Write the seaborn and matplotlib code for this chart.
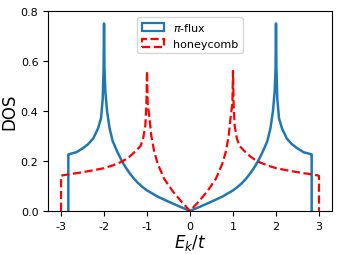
import numpy as np
import pandas as pd
import matplotlib
matplotlib.use("Agg")
import matplotlib.pyplot as plt
from matplotlib.patches import Patch
import seaborn as sns

# values (E_k/t, DOS)
pi_energy = [-2.83, -2.83, -2.81, -2.64, -2.5, -2.37, -2.25, -2.14, -2.07, -2.03, -2.01, -2.0,
             -1.99, -1.97, -1.93, -1.87, -1.8, -1.7, -1.6, -1.5, -1.4, -1.3, -1.2, -1.1,
             -1.0, -0.75, -0.5, -0.25, 0.0, 0.25, 0.5, 0.75, 1.0, 1.1, 1.2, 1.3, 1.4, 1.5,
             1.6, 1.7, 1.8, 1.87, 1.93, 1.97, 1.99, 2.0, 2.01, 2.03, 2.07, 2.14, 2.25, 2.37,
             2.5, 2.64, 2.81, 2.83, 2.83]
pi_dos = [0.0, 0.226, 0.227, 0.235, 0.25, 0.267, 0.29, 0.33, 0.37, 0.45, 0.57, 0.75,
          0.57, 0.48, 0.40, 0.33, 0.28, 0.24, 0.205, 0.175, 0.15, 0.128, 0.11, 0.095,
          0.082, 0.057, 0.037, 0.018, 0.0, 0.018, 0.037, 0.057, 0.082, 0.095, 0.11, 0.128,
          0.15, 0.175, 0.205, 0.24, 0.28, 0.33, 0.40, 0.48, 0.57, 0.75, 0.57, 0.45, 0.37,
          0.33, 0.29, 0.267, 0.25, 0.235, 0.227, 0.226, 0.0]

hc_energy = [-3.0, -3.0, -2.97, -2.8, -2.6, -2.33, -2.0, -1.8, -1.6, -1.5, -1.4, -1.28,
             -1.15, -1.09, -1.04, -1.015, -1.0, -0.985, -0.94, -0.9, -0.83, -0.75, -0.6,
             -0.4, -0.2, 0.0, 0.2, 0.4, 0.6, 0.75, 0.83, 0.9, 0.94, 0.985, 1.0, 1.015,
             1.04, 1.09, 1.15, 1.28, 1.4, 1.5, 1.6, 1.8, 2.0, 2.33, 2.6, 2.8, 2.97, 3.0, 3.0]
hc_dos = [0.0, 0.14, 0.142, 0.147, 0.152, 0.16, 0.171, 0.182, 0.196, 0.206, 0.218, 0.237,
          0.26, 0.29, 0.34, 0.42, 0.56, 0.43, 0.368, 0.30, 0.235, 0.188, 0.128,
          0.078, 0.037, 0.0, 0.037, 0.078, 0.128, 0.188, 0.235, 0.30, 0.368, 0.43, 0.56,
          0.42, 0.34, 0.29, 0.26, 0.237, 0.218, 0.206, 0.196, 0.182, 0.171, 0.16, 0.152,
          0.147, 0.142, 0.14, 0.0]

labels = [r"$\pi$-flux", "honeycomb"]

plt.rcParams["axes.unicode_minus"] = False

pi_df = pd.DataFrame({"E": pi_energy, "DOS": pi_dos})
hc_df = pd.DataFrame({"E": hc_energy, "DOS": hc_dos})

fig, ax = plt.subplots(figsize=(3.39, 2.55), dpi=100)
fig.subplots_adjust(left=0.142, right=0.979, bottom=0.169, top=0.953)

sns.lineplot(data=pi_df, x="E", y="DOS", sort=False, estimator=None,
             color="#1f77b4", lw=1.8, ax=ax)
sns.lineplot(data=hc_df, x="E", y="DOS", sort=False, estimator=None,
             color="red", lw=1.6, ls="--", ax=ax)

ax.set_xlim(-3.3, 3.3)
ax.set_ylim(0, 0.8)
ax.set_xticks([-3, -2, -1, 0, 1, 2, 3])
ax.set_yticks([0.0, 0.2, 0.4, 0.6, 0.8])
ax.tick_params(labelsize=8)
ax.set_xlabel(r"$E_k/t$", fontsize=12, labelpad=1)
ax.set_ylabel("DOS", fontsize=12, labelpad=2)

handles = [Patch(facecolor="none", edgecolor="#1f77b4", lw=1.6),
           Patch(facecolor="none", edgecolor="red", lw=1.6, ls="--")]
ax.legend(handles, labels, loc="upper center", fontsize=8)

fig.savefig("out.png", dpi=100)
